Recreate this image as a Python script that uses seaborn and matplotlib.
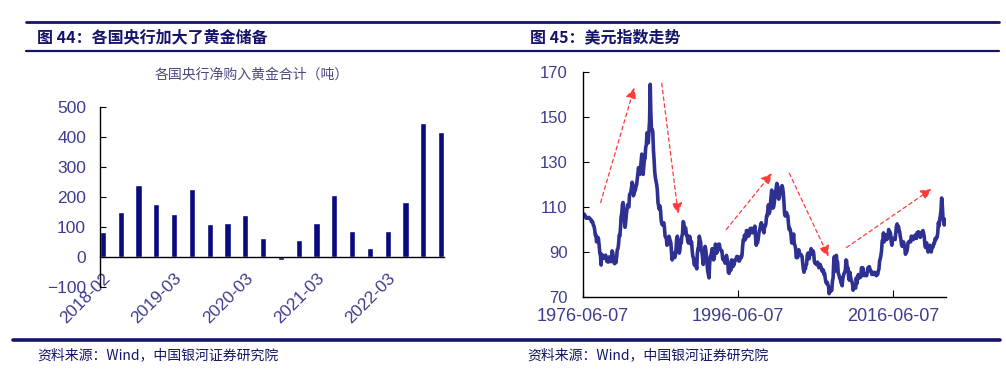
import numpy as np
import pandas as pd
import seaborn as sns
import matplotlib.pyplot as plt
import matplotlib.dates as mdates
from matplotlib.lines import Line2D

# ---- left chart: central bank net gold purchases (tonnes), quarterly ----
quarters = ["2018-02", "2018-06", "2018-09", "2018-12",
            "2019-03", "2019-06", "2019-09", "2019-12",
            "2020-03", "2020-06", "2020-09", "2020-12",
            "2021-03", "2021-06", "2021-09", "2021-12",
            "2022-03", "2022-06", "2022-09", "2022-12"]
gold_tonnes = [83, 151, 239, 177, 144, 227, 111, 115, 139, 62,
               -11, 58, 114, 208, 88, 31, 87, 183, 446, 417]
left_ticks = ["2018-02", "2019-03", "2020-03", "2021-03", "2022-03"]

# ---- right chart: US dollar index, monthly from 1976-06 ----
dxy_1976 = [106.5, 106.5, 106.8, 106.3, 105.5, 105.0, 105.3]
dxy_1977_1986 = [
    105.2, 105.3, 105.4, 105.0, 104.8, 104.5, 103.5, 103.7, 103.3, 101.9, 101.5, 100.0,
    97.5, 97.6, 94.5, 94.8, 96.5, 95.8, 93.0, 89.5, 88.5, 84.2, 89.0, 88.0,
    87.5, 87.2, 87.8, 88.3, 88.6, 87.0, 85.8, 86.5, 85.5, 87.8, 87.5, 86.0,
    85.7, 86.8, 90.5, 89.8, 86.9, 85.3, 84.8, 86.3, 85.3, 87.7, 91.0, 91.5,
    93.5, 97.5, 97.0, 100.5, 105.7, 107.0, 111.0, 112.0, 107.5, 104.5, 101.0, 103.0,
    106.5, 109.0, 111.0, 110.0, 110.0, 115.5, 116.0, 116.5, 118.5, 121.0, 120.0, 115.0,
    116.0, 117.0, 117.5, 119.0, 120.0, 122.5, 124.5, 127.5, 125.0, 124.5, 127.0, 130.5,
    133.5, 128.0, 124.5, 128.0, 131.0, 131.5, 136.5, 137.5, 143.0, 142.0, 138.5, 143.5,
    148.5, 164.5, 152.0, 144.0, 144.5, 143.5, 135.5, 131.0, 125.5, 123.0, 121.5, 120.0,
    117.5, 112.0, 110.5, 109.0, 110.5, 108.5, 104.0, 102.5, 102.0, 102.5, 103.0, 101.0]
dxy_1987_1996 = [
    97.0, 96.5, 96.0, 93.0, 93.5, 95.5, 97.0, 96.0, 95.0, 94.0, 89.5, 86.5,
    89.0, 89.5, 88.0, 87.5, 88.5, 91.5, 96.0, 97.0, 95.5, 92.5, 89.5, 91.0,
    95.0, 94.0, 97.0, 98.0, 103.5, 103.0, 98.5, 101.0, 100.5, 97.5, 97.5, 95.0,
    94.0, 94.5, 97.0, 95.5, 93.5, 94.5, 90.5, 88.0, 87.5, 84.5, 84.0, 85.5,
    84.0, 82.5, 89.5, 91.5, 92.5, 97.0, 95.5, 94.5, 90.5, 90.0, 87.5, 84.5,
    88.0, 90.0, 92.5, 91.0, 88.0, 85.0, 81.5, 80.0, 78.5, 85.0, 88.0, 88.5,
    90.0, 91.5, 89.0, 86.5, 87.0, 90.5, 93.5, 91.5, 89.5, 91.0, 92.0, 93.5,
    93.5, 91.5, 91.0, 90.5, 90.5, 87.5, 86.5, 87.5, 86.0, 85.0, 87.5, 88.5,
    87.0, 85.5, 81.0, 80.5, 82.0, 82.5, 82.0, 86.5, 85.0, 83.5, 84.0, 84.5,
    86.5, 86.5, 87.0, 88.0, 88.0, 87.5, 86.0, 86.0, 87.0, 88.0, 87.5, 88.5]
dxy_1997_2006 = [
    92.5, 95.5, 95.0, 97.5, 95.5, 96.0, 99.5, 99.5, 97.5, 97.0, 97.5, 99.5,
    100.5, 99.0, 100.5, 98.5, 99.5, 100.5, 100.5, 101.5, 96.5, 93.0, 95.0, 94.0,
    95.5, 98.0, 99.5, 100.5, 102.0, 103.0, 102.0, 101.5, 99.5, 98.5, 101.5, 101.5,
    102.5, 106.0, 106.0, 108.5, 111.0, 107.0, 108.0, 111.0, 114.5, 117.5, 115.5, 109.5,
    110.0, 112.0, 115.5, 116.5, 118.5, 120.5, 119.5, 114.0, 113.5, 114.5, 116.5, 117.5,
    119.0, 119.5, 118.5, 116.0, 112.0, 107.0, 106.0, 107.0, 107.5, 106.5, 106.0, 102.5,
    100.0, 100.5, 99.5, 97.5, 94.0, 94.5, 96.5, 98.0, 93.5, 93.0, 91.5, 87.5,
    87.5, 87.5, 88.5, 91.0, 89.0, 88.5, 89.0, 88.5, 88.0, 85.0, 82.5, 81.0,
    83.5, 82.5, 84.0, 84.5, 88.5, 89.5, 88.0, 87.0, 89.5, 90.0, 91.5, 90.0,
    89.0, 90.5, 89.5, 86.0, 85.0, 85.0, 84.5, 84.5, 85.5, 84.0, 83.0, 83.5]
dxy_2007_2016 = [
    84.5, 83.5, 83.0, 81.5, 82.0, 82.0, 80.0, 80.5, 78.0, 76.5, 76.0, 76.5,
    75.5, 74.5, 71.5, 73.0, 72.5, 73.0, 73.0, 77.0, 78.5, 85.5, 88.0, 81.5,
    86.0, 88.5, 85.5, 85.5, 80.5, 80.0, 78.5, 78.5, 76.5, 76.0, 75.0, 78.0,
    79.5, 80.5, 81.0, 82.0, 86.5, 86.0, 82.5, 83.0, 79.0, 77.5, 81.0, 79.0,
    77.5, 77.0, 76.0, 73.0, 74.5, 74.5, 74.0, 74.0, 78.5, 76.0, 78.5, 80.0,
    79.0, 78.5, 79.0, 79.0, 83.0, 81.5, 83.0, 81.0, 79.5, 80.0, 80.0, 79.5,
    79.5, 81.5, 83.0, 82.0, 83.5, 82.5, 81.5, 81.5, 80.0, 80.5, 80.5, 80.0,
    81.0, 80.0, 80.0, 79.5, 80.5, 80.0, 81.5, 82.5, 86.0, 87.0, 88.5, 90.5,
    95.0, 95.5, 98.5, 94.5, 97.0, 95.5, 97.5, 95.5, 96.0, 97.0, 100.0, 98.5,
    99.0, 98.0, 94.5, 93.0, 96.0, 96.0, 96.0, 96.0, 95.5, 98.5, 101.5, 102.5]
dxy_2017_2023 = [
    99.5, 101.5, 100.0, 99.0, 97.0, 95.5, 93.0, 92.5, 93.0, 94.5, 93.0, 92.0,
    89.0, 90.5, 90.0, 91.5, 94.0, 94.5, 94.5, 95.0, 94.5, 97.0, 97.0, 96.0,
    95.5, 96.5, 97.0, 97.5, 97.5, 96.0, 98.5, 98.5, 99.0, 97.5, 98.5, 96.5,
    97.5, 98.0, 99.0, 99.5, 98.5, 97.0, 93.5, 92.0, 94.0, 94.0, 91.5, 90.0,
    90.5, 90.5, 93.0, 91.0, 90.0, 92.0, 92.0, 92.5, 94.0, 94.0, 96.0, 95.5,
    96.5, 96.5, 98.5, 103.0, 101.5, 104.5, 106.0, 108.5, 114.0, 111.0, 105.5, 103.5,
    102.0, 104.5, 102.5]
dxy = dxy_1976 + dxy_1977_1986 + dxy_1987_1996 + dxy_1997_2006 + dxy_2007_2016 + dxy_2017_2023
dxy_dates = pd.date_range("1976-06-07", periods=len(dxy), freq=pd.DateOffset(months=1))
right_ticks = ["1976-06-07", "1996-06-07", "2016-06-07"]

# trend arrows (start date, start value, end date, end value)
arrows = [("1978-09-15", 112, "1983-01-15", 163),
          ("1986-08-01", 165, "1988-09-15", 107),
          ("1994-12-01", 100, "2000-10-15", 125),
          ("2003-01-15", 125, "2008-02-01", 88),
          ("2010-06-01", 92, "2021-05-15", 118)]

NAVY = "#14146b"
TICK = "#3d3d8f"

sns.set_style("ticks")
plt.rcParams["font.family"] = ["Noto Sans CJK SC", "DejaVu Sans"]

fig = plt.figure(figsize=(10.06, 3.71), dpi=100)
W, H = 1006, 371

def fx(px):
    return px / W

def fy(py):
    return 1 - py / H

# header / footer rules
fig.add_artist(Line2D([fx(26), fx(999)], [fy(22)] * 2, color=NAVY, lw=2))
fig.add_artist(Line2D([fx(26), fx(999)], [fy(51)] * 2, color=NAVY, lw=1.6))
fig.add_artist(Line2D([fx(13), fx(1000)], [fy(340)] * 2, color=NAVY, lw=2.6))
fig.text(fx(37), fy(37), "图 44：各国央行加大了黄金储备", fontsize=11.5, fontweight="bold",
         color=NAVY, va="center", ha="left")
fig.text(fx(530), fy(37), "图 45：美元指数走势", fontsize=11.5, fontweight="bold",
         color=NAVY, va="center", ha="left")
for x0 in (37, 527):
    fig.text(fx(x0), fy(355), "资料来源：Wind，中国银河证券研究院", fontsize=10,
             color=NAVY, va="center", ha="left", style="italic")

# ---- left: bar chart ----
ax1 = fig.add_axes([fx(100), fy(287), (444 - 100) / W, (287 - 107) / H])
df = pd.DataFrame({"q": quarters, "t": gold_tonnes})
sns.barplot(data=df, x="q", y="t", color="#0a0a80", width=0.35, saturation=1, ax=ax1)
ax1.spines["bottom"].set_position(("data", 0))
ax1.spines["top"].set_visible(False)
ax1.spines["right"].set_visible(False)
for s in ("left", "bottom"):
    ax1.spines[s].set_color("black")
    ax1.spines[s].set_linewidth(1)
ax1.set_xlim(-0.17, len(quarters) - 1 + 0.17)
ax1.set_ylim(-100, 500)
ax1.set_yticks(range(-100, 501, 100))
ax1.set_xticks([quarters.index(q) for q in left_ticks])
ax1.set_xticklabels(left_ticks)
ax1.tick_params(axis="x", direction="in", length=4, pad=10, colors="black", labelcolor=TICK, labelsize=12.5)
ax1.tick_params(axis="y", direction="in", length=4, pad=10, colors="black", labelcolor=TICK, labelsize=12.5)
plt.setp(ax1.get_xticklabels(), rotation=45, ha="right", rotation_mode="anchor")
for lab in ax1.get_xticklabels() + ax1.get_yticklabels():
    lab.set_fontfamily("Liberation Sans")
ax1.set_xlabel("")
ax1.set_ylabel("")
fig.text(fx(252), fy(75), "各国央行净购入黄金合计（吨）", fontsize=10, color="#4a4a80",
         ha="center", va="center")

# ---- right: line chart ----
ax2 = fig.add_axes([fx(583), fy(297), (946 - 583) / W, (297 - 72) / H])
sns.lineplot(x=dxy_dates, y=dxy, color="#2e3192", lw=2.6, ax=ax2)
ax2.spines["top"].set_visible(False)
ax2.spines["right"].set_visible(False)
for s in ("left", "bottom"):
    ax2.spines[s].set_color("black")
    ax2.spines[s].set_linewidth(1)
ax2.set_xlim(pd.Timestamp("1976-06-07"), pd.Timestamp("2023-03-31"))
ax2.set_ylim(70, 170)
ax2.set_yticks(range(70, 171, 20))
ax2.set_xticks([pd.Timestamp(d) for d in right_ticks])
ax2.xaxis.set_major_formatter(mdates.DateFormatter("%Y-%m-%d"))
ax2.tick_params(axis="x", direction="in", length=5, pad=8, colors="black", labelcolor=TICK, labelsize=13)
ax2.tick_params(axis="y", direction="in", length=4, pad=11, colors="black", labelcolor=TICK, labelsize=12)
for lab in ax2.get_xticklabels() + ax2.get_yticklabels():
    lab.set_fontfamily("Liberation Sans")
ax2.set_xlabel("")
ax2.set_ylabel("")
for d0, v0, d1, v1 in arrows:
    ax2.annotate("", xy=(pd.Timestamp(d1), v1), xytext=(pd.Timestamp(d0), v0),
                 arrowprops=dict(arrowstyle="-|>", linestyle=(0, (3, 2.5)), color="#ff3b3b",
                                 lw=0.9, mutation_scale=16, shrinkA=0, shrinkB=0))

fig.savefig("out.png", dpi=100)
